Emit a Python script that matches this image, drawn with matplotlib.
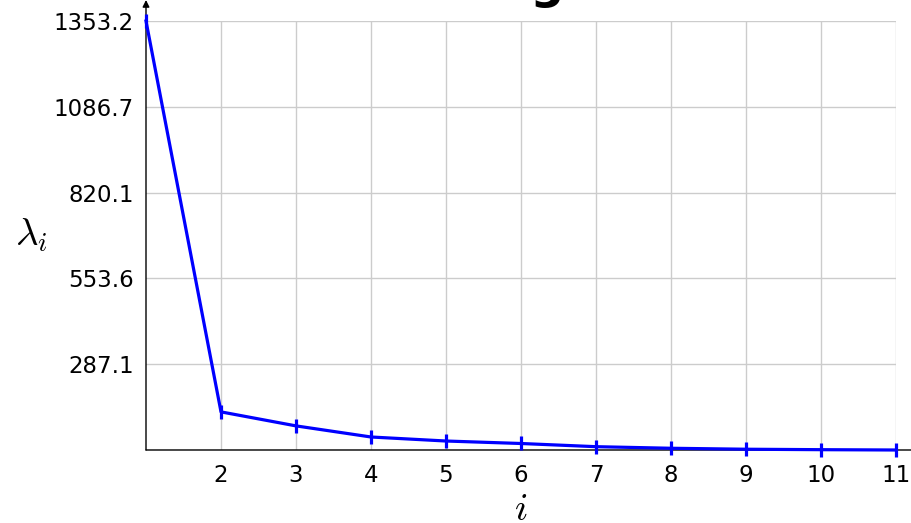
import numpy as np
from matplotlib import pyplot as plt
import matplotlib as mpl

mpl.rc('font', size=16.5, family='DejaVu Sans')
mpl.rc('mathtext', fontset='cm')

# eigenvalues
idx = [1, 2, 3, 4, 5, 6, 7, 8, 9, 10, 11]
eigvals = [1353.2, 139.0, 95.5, 61.0, 48.5, 40.8, 30.9, 26.0, 23.0, 21.6, 20.6]
yticks = [20.6, 287.1, 553.6, 820.1, 1086.7, 1353.2]
ytick_labels = ['', '287.1', '553.6', '820.1', '1086.7', '1353.2']
xticks = [2, 3, 4, 5, 6, 7, 8, 9, 10, 11]
title = 'Scree Diagram'

W, H = 911, 523
fig = plt.figure(figsize=(W / 100, H / 100), dpi=100)
ax = fig.add_axes([146 / W, 73 / H, (896 - 146) / W, (450 - 21) / H])

ax.plot(idx, eigvals, color=(0, 0, 1), lw=2.3, marker='|', ms=10, mew=2.3,
        clip_on=False, zorder=5)

ax.set_xlim(1, 11)
ax.set_ylim(yticks[0], yticks[-1])
ax.set_xticks(xticks)
ax.set_yticks(yticks)
ax.set_yticklabels(ytick_labels)
ax.tick_params(axis='y', length=0, pad=9)
ax.tick_params(axis='x', length=0, pad=10)
ax.grid(True, color='#cccccc', lw=1)
ax.set_axisbelow(True)

for s in ax.spines.values():
    s.set_visible(False)

# axis lines with arrows
ax.annotate('', xy=(0, 450 / 429), xytext=(0, 0), xycoords='axes fraction',
            arrowprops=dict(arrowstyle='-|>', color='black', lw=1,
                            mutation_scale=10, shrinkA=0, shrinkB=0),
            annotation_clip=False)
ax.annotate('', xy=(1 + 30 / 750, 0), xytext=(0, 0), xycoords='axes fraction',
            arrowprops=dict(arrowstyle='-|>', color='black', lw=1,
                            mutation_scale=10, shrinkA=0, shrinkB=0),
            annotation_clip=False)

ax.set_xlabel(r'$i$', fontsize=28, labelpad=2)
ax.set_ylabel(r'$\lambda_i$', fontsize=28, rotation=0, labelpad=16, va='center')

fig.text(473 / W, 1 + 2 / H, title, fontsize=34, fontweight='bold',
         ha='center', va='baseline')

fig.savefig('out.png', dpi=100)
